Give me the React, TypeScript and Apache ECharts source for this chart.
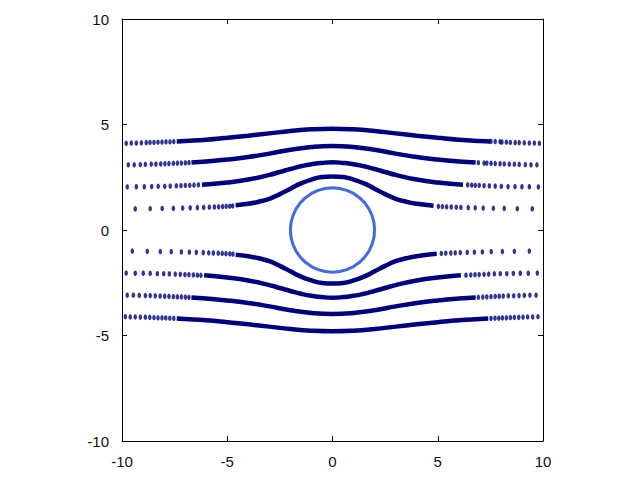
import React, { useEffect, useRef } from "react";
import * as echarts from "echarts";

// ---- tick values ----
const xTicks = [-10, -5, 0, 5, 10];
const yTicks = [-10, -5, 0, 5, 10];

// ---- streamlines above the cylinder: sparse dots (outer parts) ----
const dotsA1: number[][] = [
  [-9.8, 4.11], [-9.56, 4.12], [-9.32, 4.12], [-9.08, 4.13], [-8.85, 4.14], [-8.67, 4.15],
  [-8.48, 4.15], [-8.29, 4.16], [-8.1, 4.17], [-7.91, 4.18], [-7.72, 4.18], [-7.54, 4.19],
  [7.53, 4.2], [7.73, 4.19], [7.96, 4.18], [8.05, 4.17], [8.26, 4.16], [8.45, 4.15],
  [8.68, 4.14], [8.87, 4.14], [9.11, 4.13], [9.35, 4.12], [9.59, 4.12], [9.83, 4.11],
];
const dotsA2: number[][] = [
  [-9.7, 3.09], [-9.42, 3.09], [-9.13, 3.1], [-8.89, 3.11], [-8.61, 3.12], [-8.39, 3.12],
  [-8.16, 3.13], [-7.96, 3.14], [-7.77, 3.15], [-7.56, 3.16], [-7.37, 3.17], [-7.18, 3.17],
  [-6.99, 3.18], [-6.82, 3.19],
  [6.93, 3.19], [7.2, 3.17], [7.33, 3.17], [7.53, 3.16], [7.73, 3.15], [7.96, 3.14],
  [8.16, 3.13], [8.4, 3.12], [8.64, 3.12], [8.87, 3.11], [9.16, 3.1], [9.43, 3.09], [9.71, 3.09],
];
const dotsA3: number[][] = [
  [-9.75, 2.04], [-9.32, 2.05], [-8.94, 2.05], [-8.59, 2.06], [-8.28, 2.07], [-7.97, 2.07],
  [-7.71, 2.08], [-7.42, 2.09], [-7.2, 2.1], [-6.99, 2.11], [-6.78, 2.12], [-6.58, 2.13], [-6.37, 2.14],
  [6.42, 2.14], [6.61, 2.13], [6.78, 2.12], [6.97, 2.11], [7.2, 2.1], [7.45, 2.09],
  [7.73, 2.08], [8.02, 2.07], [8.34, 2.06], [8.67, 2.06], [9.0, 2.05], [9.35, 2.05], [9.78, 2.04],
];
const dotsA4: number[][] = [
  [-9.37, 1.0], [-8.66, 1.01], [-8.09, 1.02], [-7.56, 1.03], [-7.12, 1.04], [-6.76, 1.05],
  [-6.42, 1.06], [-6.12, 1.07], [-5.85, 1.08], [-5.61, 1.09], [-5.41, 1.1], [-5.22, 1.11],
  [-5.05, 1.12], [-4.88, 1.13], [-4.74, 1.14],
  [5.03, 1.12], [5.22, 1.11], [5.42, 1.1], [5.64, 1.09], [5.88, 1.08], [6.1, 1.07],
  [6.45, 1.06], [6.78, 1.05], [7.16, 1.04], [7.64, 1.03], [8.16, 1.02], [8.78, 1.01], [9.49, 1.0],
];

// ---- streamlines below the cylinder: sparse dots ----
const dotsB1: number[][] = [
  [-9.51, -1.0], [-8.8, -1.01], [-8.18, -1.02], [-7.66, -1.03], [-7.18, -1.04], [-6.8, -1.05],
  [-6.47, -1.06], [-6.14, -1.07], [-5.88, -1.08], [-5.66, -1.09], [-5.43, -1.1], [-5.24, -1.11],
  [-5.06, -1.12], [-4.88, -1.13], [-4.73, -1.14],
  [5.17, -1.11], [5.38, -1.1], [5.62, -1.09], [5.83, -1.08], [6.07, -1.07], [6.4, -1.06],
  [6.74, -1.05], [7.12, -1.04], [7.54, -1.03], [8.07, -1.02], [8.64, -1.01], [9.35, -1.0],
];
const dotsB2: number[][] = [
  [-9.8, -2.04], [-9.37, -2.05], [-8.99, -2.05], [-8.66, -2.06], [-8.32, -2.07], [-8.02, -2.07],
  [-7.75, -2.08], [-7.47, -2.09], [-7.23, -2.1], [-7.01, -2.11], [-6.82, -2.12], [-6.61, -2.13],
  [-6.42, -2.14], [-6.25, -2.15],
  [6.34, -2.14], [6.57, -2.13], [6.77, -2.12], [6.97, -2.11], [7.2, -2.1], [7.42, -2.09],
  [7.69, -2.08], [7.97, -2.07], [8.28, -2.07], [8.59, -2.06], [8.92, -2.05], [9.3, -2.05], [9.73, -2.04],
];
const dotsB3: number[][] = [
  [-9.75, -3.09], [-9.46, -3.09], [-9.18, -3.1], [-8.89, -3.11], [-8.66, -3.11], [-8.42, -3.12],
  [-8.19, -3.13], [-7.97, -3.14], [-7.77, -3.15], [-7.56, -3.16], [-7.37, -3.17], [-7.18, -3.17],
  [-6.99, -3.18], [-6.82, -3.19],
  [6.93, -3.19], [7.14, -3.18], [7.33, -3.17], [7.53, -3.16], [7.73, -3.15], [7.92, -3.14],
  [8.11, -3.13], [8.35, -3.12], [8.61, -3.12], [8.86, -3.11], [9.11, -3.1], [9.38, -3.09], [9.67, -3.09],
];
const dotsB4: number[][] = [
  [-9.84, -4.11], [-9.61, -4.12], [-9.37, -4.12], [-9.13, -4.13], [-8.89, -4.13], [-8.68, -4.14],
  [-8.48, -4.15], [-8.29, -4.16], [-8.1, -4.16], [-7.92, -4.17], [-7.73, -4.18], [-7.54, -4.19],
  [7.53, -4.19], [7.72, -4.18], [7.9, -4.18], [8.07, -4.17], [8.26, -4.16], [8.45, -4.15],
  [8.64, -4.14], [8.85, -4.14], [9.05, -4.13], [9.27, -4.12], [9.51, -4.12], [9.76, -4.11],
];

// ---- dense central parts of the streamlines ----
const curveA1: number[][] = [
  [-7.4, 4.2], [-7, 4.22], [-6, 4.28], [-5, 4.37], [-4, 4.47], [-3, 4.58], [-2, 4.69], [-1, 4.77],
  [0, 4.8], [1, 4.77], [2, 4.69], [3, 4.58], [4, 4.47], [5, 4.37], [6, 4.28], [7, 4.22], [7.5, 4.2],
];
const curveA2: number[][] = [
  [-6.7, 3.2], [-6, 3.25], [-5, 3.34], [-4, 3.46], [-3, 3.62], [-2, 3.8], [-1, 3.93], [0, 3.98],
  [1, 3.93], [2, 3.8], [3, 3.62], [4, 3.46], [5, 3.34], [6, 3.25], [6.8, 3.2],
];
const curveA3: number[][] = [
  [-6.2, 2.15], [-5, 2.25], [-4, 2.39], [-3, 2.61], [-2.5, 2.75], [-2, 2.89], [-1.5, 3.02],
  [-1, 3.12], [-0.5, 3.18], [0, 3.21], [0.5, 3.18], [1, 3.12], [1.5, 3.02], [2, 2.89],
  [2.5, 2.75], [3, 2.61], [4, 2.39], [5, 2.25], [6.2, 2.15],
];
const curveA4: number[][] = [
  [-4.6, 1.17], [-4, 1.24], [-3.5, 1.34], [-3, 1.48], [-2.5, 1.7], [-2, 1.96], [-1.5, 2.21],
  [-1, 2.39], [-0.5, 2.51], [0, 2.54], [0.5, 2.51], [1, 2.39], [1.5, 2.21], [2, 1.96],
  [2.5, 1.7], [3, 1.48], [3.5, 1.34], [4, 1.24], [4.8, 1.15],
];
const curveB1: number[][] = [
  [-4.6, -1.17], [-4, -1.24], [-3.5, -1.34], [-3, -1.48], [-2.5, -1.7], [-2, -1.96], [-1.5, -2.21],
  [-1, -2.39], [-0.5, -2.51], [0, -2.54], [0.5, -2.51], [1, -2.39], [1.5, -2.21], [2, -1.96],
  [2.5, -1.7], [3, -1.48], [3.5, -1.34], [4, -1.24], [4.95, -1.13],
];
const curveB2: number[][] = [
  [-6.1, -2.15], [-5, -2.25], [-4, -2.39], [-3, -2.61], [-2.5, -2.75], [-2, -2.89], [-1.5, -3.02],
  [-1, -3.12], [-0.5, -3.18], [0, -3.21], [0.5, -3.18], [1, -3.12], [1.5, -3.02], [2, -2.89],
  [2.5, -2.75], [3, -2.61], [4, -2.39], [5, -2.25], [6.1, -2.15],
];
const curveB3: number[][] = [
  [-6.7, -3.2], [-6, -3.25], [-5, -3.34], [-4, -3.46], [-3, -3.62], [-2, -3.8], [-1, -3.93], [0, -3.98],
  [1, -3.93], [2, -3.8], [3, -3.62], [4, -3.46], [5, -3.34], [6, -3.25], [6.8, -3.2],
];
const curveB4: number[][] = [
  [-7.4, -4.2], [-7, -4.22], [-6, -4.28], [-5, -4.37], [-4, -4.47], [-3, -4.58], [-2, -4.69], [-1, -4.77],
  [0, -4.8], [1, -4.77], [2, -4.69], [3, -4.58], [4, -4.47], [5, -4.37], [6, -4.28], [7, -4.22], [7.4, -4.2],
];

// ---- cylinder outline (radius 2) ----
const cylinder: number[][] = [
  [2, 0], [1.97, 0.347], [1.879, 0.684], [1.732, 1.0], [1.532, 1.286], [1.286, 1.532],
  [1.0, 1.732], [0.684, 1.879], [0.347, 1.97], [0, 2], [-0.347, 1.97], [-0.684, 1.879],
  [-1.0, 1.732], [-1.286, 1.532], [-1.532, 1.286], [-1.732, 1.0], [-1.879, 0.684], [-1.97, 0.347],
  [-2, 0], [-1.97, -0.347], [-1.879, -0.684], [-1.732, -1.0], [-1.532, -1.286], [-1.286, -1.532],
  [-1.0, -1.732], [-0.684, -1.879], [-0.347, -1.97], [0, -2], [0.347, -1.97], [0.684, -1.879],
  [1.0, -1.732], [1.286, -1.532], [1.532, -1.286], [1.732, -1.0], [1.879, -0.684], [1.97, -0.347],
  [2, 0],
];

const DOT = "#000080";
const RING = "#4169E1";

export default function App() {
  const ref = useRef<HTMLDivElement>(null);
  useEffect(() => {
    if (!ref.current) return;
    const chart = echarts.init(ref.current, undefined, { renderer: "svg" });
    const font = "'Liberation Sans', Arial, sans-serif";
    const axisCommon = {
      type: "value" as const,
      min: xTicks[0],
      max: xTicks[xTicks.length - 1],
      interval: 5,
      splitLine: { show: false },
      axisLine: { show: true, onZero: false, lineStyle: { color: "#000", width: 1 } },
      axisTick: { show: true, inside: true, length: 5, lineStyle: { color: "#000", width: 1 } },
    };
    const curves = [curveA1, curveA2, curveA3, curveA4, curveB1, curveB2, curveB3, curveB4];
    const dots = [
      ...dotsA1, ...dotsA2, ...dotsA3, ...dotsA4,
      ...dotsB1, ...dotsB2, ...dotsB3, ...dotsB4,
    ];
    chart.setOption({
      animation: false,
      backgroundColor: "#fff",
      grid: { left: 122, top: 19, width: 421, height: 422, containLabel: false },
      xAxis: [
        {
          ...axisCommon,
          position: "bottom",
          axisLabel: { show: true, color: "#111", fontSize: 15, fontFamily: font, margin: 13 },
        },
        { ...axisCommon, position: "top", axisLabel: { show: false } },
      ],
      yAxis: [
        {
          ...axisCommon,
          min: yTicks[0],
          max: yTicks[yTicks.length - 1],
          position: "left",
          axisLabel: { show: true, color: "#111", fontSize: 15, fontFamily: font, margin: 13 },
        },
        {
          ...axisCommon,
          min: yTicks[0],
          max: yTicks[yTicks.length - 1],
          position: "right",
          axisLabel: { show: false },
        },
      ],
      series: [
        ...curves.map((c) => ({
          type: "line",
          data: c,
          smooth: true,
          showSymbol: false,
          lineStyle: { color: DOT, width: 4.5 },
          silent: true,
        })),
        {
          type: "scatter",
          data: dots,
          symbol: "circle",
          symbolSize: [3.5, 5.5],
          itemStyle: { color: DOT },
          silent: true,
        },
        {
          type: "line",
          data: cylinder,
          smooth: false,
          showSymbol: false,
          lineStyle: { color: RING, width: 3 },
          silent: true,
        },
      ],
    });
    return () => chart.dispose();
  }, []);
  return (
    <div
      ref={ref}
      style={{ position: "absolute", left: 0, top: 0, width: 640, height: 480 }}
    />
  );
}
